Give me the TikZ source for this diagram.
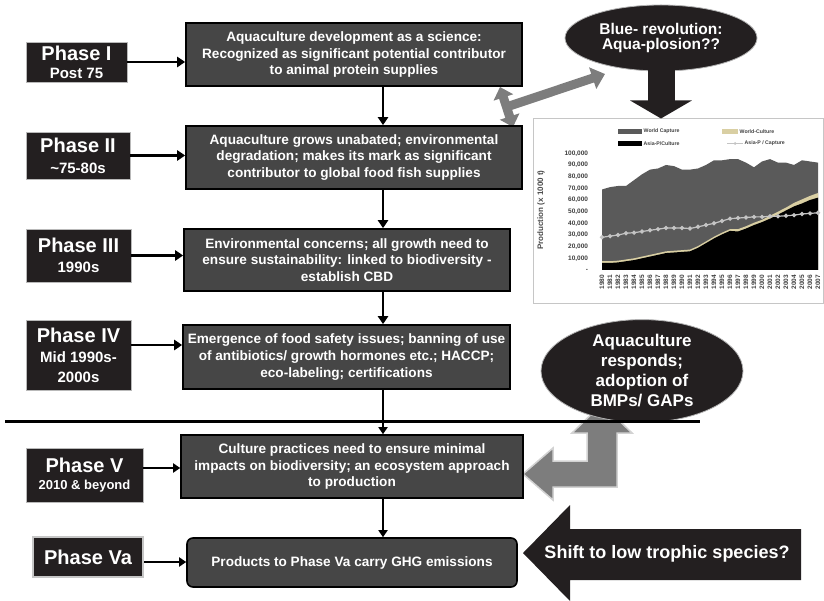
\documentclass[tikz,border=0pt]{standalone}
\usepackage{fontspec}
\setmainfont{Liberation Sans}
\usetikzlibrary{arrows.meta,shapes.geometric,calc}
\definecolor{lblk}{HTML}{231F20}
\definecolor{bgray}{HTML}{464646}
\definecolor{agray}{HTML}{7D7D7D}
\definecolor{aout}{HTML}{D2D2D2}
\definecolor{capgray}{HTML}{5A5A5A}
\definecolor{cultan}{HTML}{D9CFA3}
\definecolor{asiacap}{HTML}{C4C4C4}
\begin{document}
\begin{tikzpicture}[x=1pt,y=-1pt,
  phase/.style={fill=lblk, draw=gray!55, line width=0.6pt, text=white, align=center, inner sep=0pt},
  mainbox/.style={fill=bgray, draw=black, line width=1.6pt, text=white, align=center, inner sep=0pt, font=\bfseries\fontsize{13.6}{16.8}\selectfont},
  flow/.style={line width=2.6pt, -{Triangle[length=8pt 0 0, width=10pt 0 0]}},
  thinflow/.style={line width=1.8pt, -{Triangle[length=7pt 0 0, width=9pt 0 0]}},
  bubble/.style={ellipse, fill=lblk, draw=gray!60, line width=0.8pt, text=white, align=center, inner sep=0pt, font=\bfseries},
  grayarrow/.style={agray, line width=9pt},
  tickfont/.style={font=\bfseries\fontsize{6.5}{7}\selectfont, text=black!75},
  legfont/.style={font=\bfseries\fontsize{5.2}{6}\selectfont, text=black!75, anchor=west, inner sep=0.5pt}
]
\useasboundingbox (0,0) rectangle (824,601);

% ---------- chart ----------
\node[draw=gray!45, line width=1pt, fill=white, minimum width=290, minimum height=185, inner sep=0pt] (chart) at (678,211.5) {};
\begin{scope}[shift={(602,270)}, x=8pt, y=1.167pt]
  \fill[capgray] (0,0) -- plot coordinates {(0,69) (1,71) (2,72) (3,72) (4,77) (5,82) (6,86) (7,87) (8,90) (9,89) (10,86) (11,86) (12,87) (13,90) (14,94) (15,94) (16,95) (17,95) (18,92) (19,88) (20,93) (21,95) (22,92) (23,92) (24,90) (25,94) (26,93) (27,92)} -- (27,0) -- cycle;
  \fill[cultan] (0,0) -- plot coordinates {(0,7.5) (1,7.5) (2,8) (3,9) (4,10) (5,11.5) (6,13) (7,14.5) (8,16) (9,16.5) (10,17) (11,17.5) (12,20.5) (13,24.5) (14,28.5) (15,32) (16,35) (17,35) (18,37.5) (19,40.5) (20,43) (21,46.5) (22,50) (23,53.5) (24,57.5) (25,60.5) (26,63.5) (27,66)} -- (27,0) -- cycle;
  \fill[black] (0,0) -- plot coordinates {(0,6) (1,6) (2,6.5) (3,7.5) (4,8.5) (5,10) (6,11.5) (7,13) (8,14.5) (9,15) (10,15.5) (11,16) (12,19) (13,23) (14,27) (15,30.5) (16,33.5) (17,33) (18,35.5) (19,38.5) (20,41) (21,44) (22,47.5) (23,51) (24,54.5) (25,57) (26,60) (27,62)} -- (27,0) -- cycle;
  \draw[asiacap, line width=1.2pt, mark=*, mark size=1.5pt] plot coordinates {(0,28) (1,29) (2,30) (3,31.5) (4,32) (5,33) (6,34) (7,35) (8,36) (9,36) (10,36) (11,35.5) (12,37) (13,38.5) (14,40) (15,42) (16,44) (17,44.5) (18,45) (19,45.5) (20,45.5) (21,46) (22,46) (23,46.5) (24,47) (25,48) (26,48.5) (27,49)};
  \node[tickfont, anchor=east] at (-1.3,0) {-};
  \foreach \v in {1,...,10} {\node[tickfont, anchor=east] at (-1.3,\v*10) {\v0,000};}
  \foreach \i in {0,...,27} {\pgfmathtruncatemacro\yr{1980+\i}\node[tickfont, rotate=90, anchor=east, inner sep=0pt] at (\i,-4) {\yr};}
\end{scope}
\node[rotate=90, font=\bfseries\fontsize{8}{8}\selectfont, text=black!70] (ytitle) at (541,210) {Production (x 1000 t)};
\fill[capgray] (618,129) rectangle (642,134);
\node[legfont] (lg1) at (643,131.5) {World Capture};
\fill[cultan] (722,129) rectangle (738,134);
\node[legfont] (lg2) at (739,131.5) {World-Culture};
\fill[black] (618,141) rectangle (642,146);
\node[legfont] (lg3) at (643,143.5) {Asia-P/Culture};
\draw[asiacap, line width=1pt] (727,143.5) -- (743,143.5);
\fill[asiacap] (735,143.5) circle (1.5pt);
\node[legfont] (lg4) at (744,143.5) {Asia-P / Capture};

% ---------- gray arrows ----------
\coordinate (ga1) at (500,87);
\coordinate (ga2) at (513,127);
\coordinate (gm) at (506.5,107);
\coordinate (ga3) at (605,74);
\draw[grayarrow, {Triangle[length=11pt 0 0, width=20pt 0 0]}-{Triangle[length=11pt 0 0, width=20pt 0 0]}] (ga1) -- (ga2);
\draw[grayarrow, -{Triangle[length=13pt 0 0, width=22pt 0 0]}] (gm) -- (ga3);

\filldraw[fill=agray, draw=aout, line width=1.5pt, line join=miter]
  (523,474) -- (553,448) -- (553,461) -- (587,461) -- (587,433) -- (572,433) -- (602,404)
  -- (632,433) -- (617,433) -- (617,487) -- (553,487) -- (553,500) -- cycle;

% ---------- bubbles ----------
\node[bubble, minimum width=192, minimum height=66, font=\bfseries\fontsize{15.5}{15}\selectfont] (e1) at (661,38) {Blue- revolution:\\Aqua-plosion??};
\draw[lblk, line width=27pt, -{Triangle[length=18pt 0 0, width=61pt 0 0]}] ([yshift=2pt]e1.south) -- (e1.south |- chart.north);
\node[bubble, minimum width=202, minimum height=92, font=\bfseries\fontsize{17}{20}\selectfont] (e2) at (642,371) {Aquaculture\\responds;\\adoption of\\BMPs/ GAPs};

% ---------- divider line ----------
\coordinate (hl1) at (5,421);
\coordinate (hl2) at (700,421);
\draw[line width=3pt] (hl1) -- (hl2);

% ---------- shift arrow ----------
\fill[lblk] (523,553) -- (570,505) -- (570,529) -- (801,529) -- (801,580) -- (570,580) -- (570,601) -- cycle;
\node[text=white, font=\bfseries\fontsize{18}{18}\selectfont] (shift) at (667,554) {Shift to low trophic species?};

% ---------- main boxes ----------
\node[mainbox, minimum width=336, minimum height=63] (b1) at (354,54.5) {Aquaculture development as a science:\\Recognized as significant potential contributor\\to animal protein supplies};
\node[mainbox, minimum width=336, minimum height=63] (b2) at (354,157.5) {Aquaculture grows unabated; environmental\\degradation; makes its mark as significant\\contributor to global food fish supplies};
\node[mainbox, minimum width=326, minimum height=62] (b3) at (347,260) {Environmental concerns; all growth need to\\ensure sustainability: linked to biodiversity -\\establish CBD};
\node[mainbox, minimum width=327, minimum height=64] (b4) at (346.5,357) {Emergence of food safety issues; banning of use\\of antibiotics/ growth hormones etc.; HACCP;\\eco-labeling; certifications};
\node[mainbox, minimum width=342, minimum height=63] (b5) at (352,466.5) {Culture practices need to ensure minimal\\impacts on biodiversity; an ecosystem approach\\to production};
\node[mainbox, rounded corners=6pt, minimum width=330, minimum height=49] (bva) at (352,562.5) {Products to Phase Va carry GHG emissions};

% ---------- phase labels ----------
\node[phase, minimum width=101, minimum height=40, font=\bfseries\fontsize{15}{18}\selectfont] (p1) at (76.5,62) {{\fontsize{20}{20}\selectfont Phase I}\\Post 75};
\node[phase, minimum width=104, minimum height=47, font=\bfseries\fontsize{15}{21}\selectfont] (p2) at (78,155.5) {{\fontsize{20}{20}\selectfont Phase II}\\\textasciitilde75-80s};
\node[phase, minimum width=105, minimum height=53, font=\bfseries\fontsize{15}{20}\selectfont] (p3) at (78.5,255.5) {{\fontsize{20}{20}\selectfont Phase III}\\1990s};
\node[phase, minimum width=105, minimum height=70, font=\bfseries\fontsize{15}{20}\selectfont] (p4) at (78.5,355) {{\fontsize{20}{20}\selectfont Phase IV}\\Mid 1990s-\\2000s};
\node[phase, minimum width=117, minimum height=54, font=\bfseries\fontsize{13}{17}\selectfont] (p5) at (84.5,475) {{\fontsize{20}{20}\selectfont Phase V}\\2010 \& beyond};
\node[phase, draw=gray!45, line width=2pt, minimum width=110, minimum height=40, font=\bfseries\fontsize{20}{20}\selectfont] (pva) at (88,557) {Phase Va};

% ---------- connectors ----------
\coordinate (fx) at (383,0);
\draw[flow] (b1.south -| fx) -- (b2.north -| fx);
\draw[flow] (b2.south -| fx) -- (b3.north -| fx);
\draw[flow] (b3.south -| fx) -- (b4.north -| fx);
\draw[thinflow] (b4.south -| fx) -- (b5.north -| fx);
\draw[thinflow] (b5.south -| fx) -- (bva.north -| fx);

\draw[flow] (p1.east) -- (p1.east -| b1.west);
\draw[flow] (p2.east) -- (p2.east -| b2.west);
\draw[flow] (p3.east) -- (p3.east -| b3.west);
\draw[flow] ([yshift=10pt]p4.east) -- ([yshift=10pt]p4.east -| b4.west);
\draw[thinflow] ([yshift=7pt]p5.east) -- ([yshift=7pt]p5.east -| b5.west);
\draw[thinflow] ([yshift=-5pt]pva.east) -- ([yshift=-5pt]pva.east -| bva.west);
\end{tikzpicture}
\end{document}
